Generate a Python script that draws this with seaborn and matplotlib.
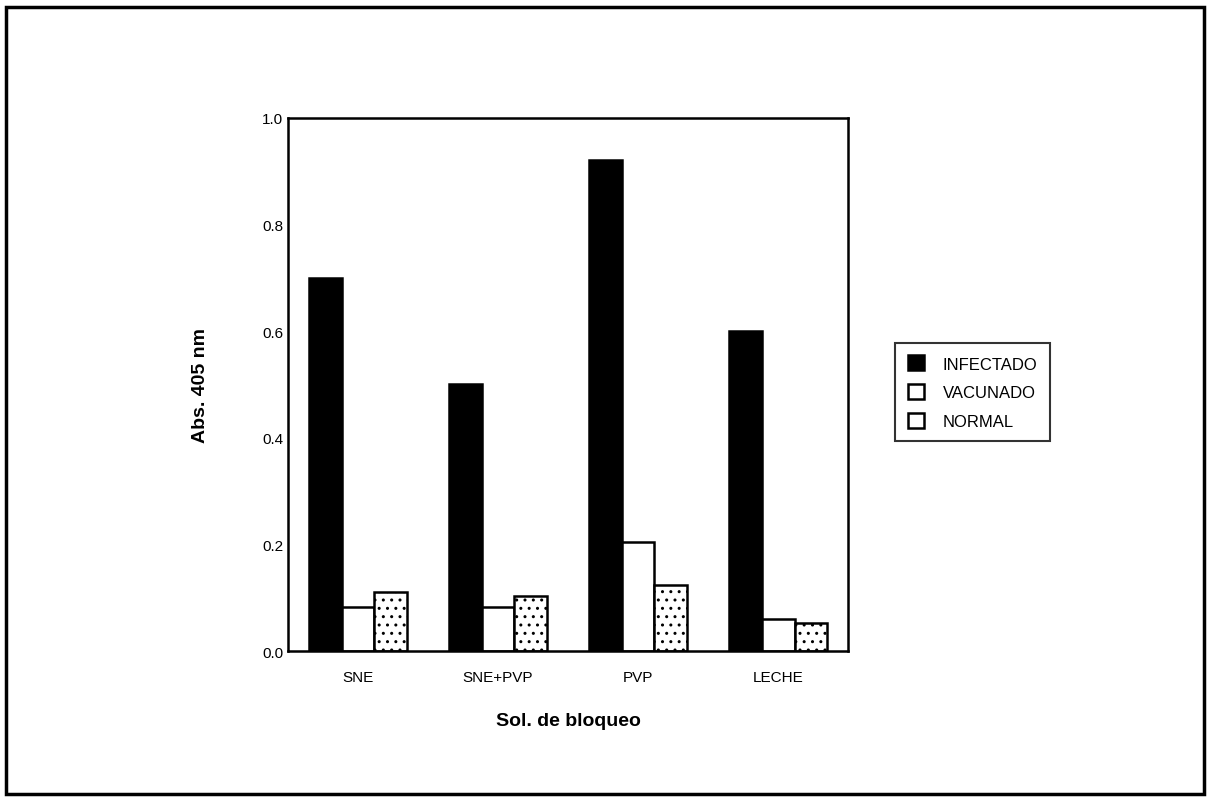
import pandas as pd
import matplotlib
matplotlib.use("Agg")
import matplotlib.pyplot as plt
import seaborn as sns
from matplotlib.patches import Rectangle

# Data
categories = ["SNE", "SNE+PVP", "PVP", "LECHE"]
groups = ["INFECTADO", "VACUNADO", "NORMAL"]
infectado = [0.70, 0.50, 0.92, 0.60]
vacunado = [0.082, 0.083, 0.205, 0.060]
normal = [0.110, 0.104, 0.124, 0.053]

df = pd.DataFrame({
    "Sol": categories * 3,
    "Grupo": [g for g in groups for _ in categories],
    "Abs": infectado + vacunado + normal,
})

sns.set_theme(style="white", rc={"text.color": "black", "axes.labelcolor": "black",
                                 "xtick.color": "black", "ytick.color": "black"})
plt.rcParams["font.family"] = ["Liberation Sans", "DejaVu Sans"]

fig = plt.figure(figsize=(12.1, 8.03), dpi=100)
ax = fig.add_axes([0.238, 0.188, 0.463, 0.664])

sns.barplot(data=df, x="Sol", y="Abs", hue="Grupo", order=categories,
            hue_order=groups, palette=["black", "white", "white"],
            edgecolor="black", linewidth=1.8, width=0.7, ax=ax)

# stipple the NORMAL bars
for bar in ax.containers[2]:
    bar.set_hatch("..")

ax.set_ylim(0, 1.0)
ax.set_yticks([0, 0.2, 0.4, 0.6, 0.8, 1.0])
ax.set_yticklabels(["0.0", "0.2", "0.4", "0.6", "0.8", "1.0"])
ax.tick_params(axis="both", labelsize=11, length=0)
ax.tick_params(axis="x", pad=14)
for s in ax.spines.values():
    s.set_color("black")
    s.set_linewidth(1.8)

ax.set_xlabel("Sol. de bloqueo", fontsize=14, fontweight="bold", labelpad=20)
ax.set_ylabel("Abs. 405 nm", fontsize=14, fontweight="bold", labelpad=38)

handles, labels = ax.get_legend_handles_labels()
for h in handles[2:]:
    h.set_hatch("")
leg = ax.legend(handles, labels, loc="upper left",
                bbox_to_anchor=(0.733, 0.582), bbox_transform=fig.transFigure,
                fontsize=12, frameon=True, fancybox=False, edgecolor="black",
                handlelength=1.0, handleheight=1.0, handletextpad=1.1,
                labelspacing=0.75, borderpad=0.75)
leg.get_frame().set_linewidth(1.5)

# outer frame of the scanned figure
fig.patches.append(Rectangle((0.005, 0.01), 0.99, 0.98, transform=fig.transFigure,
                             fill=False, edgecolor="black", linewidth=2.5))

fig.savefig("out.png", dpi=100, facecolor="white")
